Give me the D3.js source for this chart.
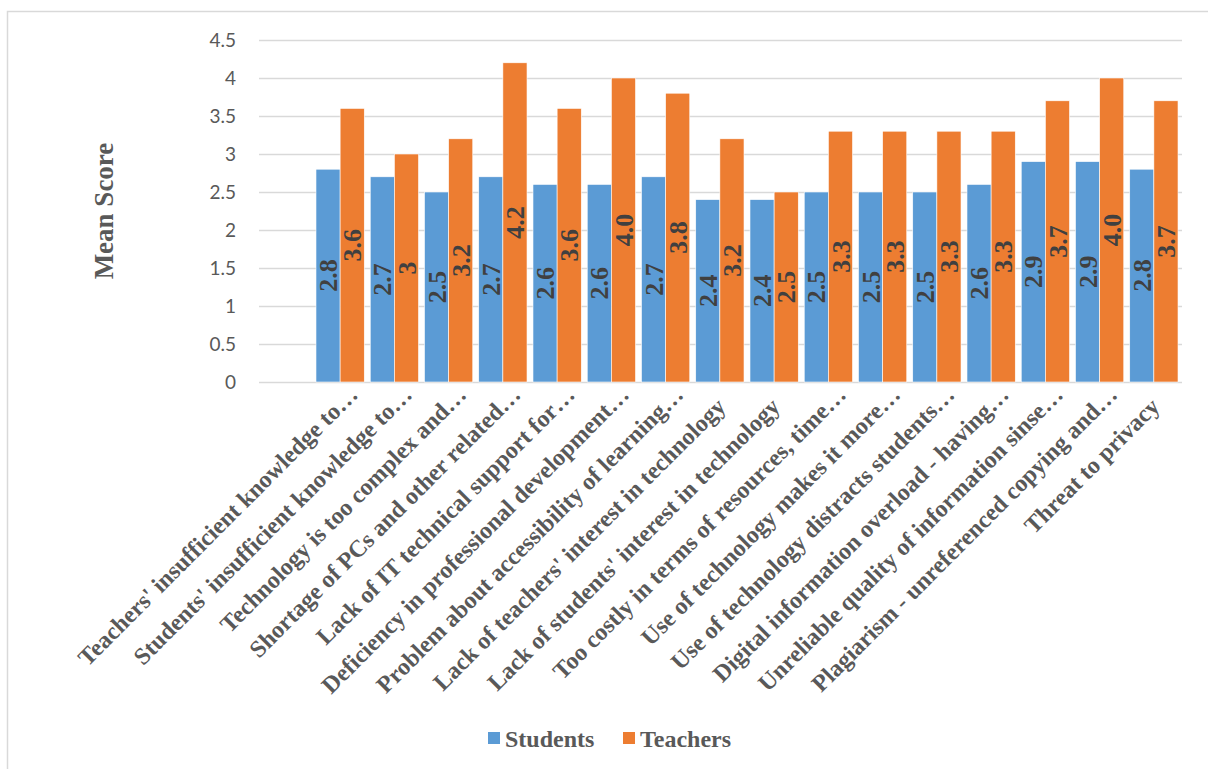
<!DOCTYPE html>
<html>
<head>
<meta charset="utf-8">
<script src="https://cdn.jsdelivr.net/npm/d3@7"></script>
<style>
  html, body { margin: 0; padding: 0; background: #ffffff; }
  svg { display: block; }
</style>
</head>
<body>
<svg id="chart" width="1208" height="769"></svg>
<script>
// Barrier categories (labels as shown on the axis, truncated)
const categories = [
  "Teachers' insufficient knowledge to\u2026",
  "Students' insufficient knowledge to\u2026",
  "Technology is too complex and\u2026",
  "Shortage of PCs and other related\u2026",
  "Lack of IT technical support for\u2026",
  "Deficiency in professional development\u2026",
  "Problem about accessibility of learning\u2026",
  "Lack of teachers' interest in technology",
  "Lack of students' interest in technology",
  "Too costly in terms of resources, time\u2026",
  "Use of technology makes it more\u2026",
  "Use of technology distracts students\u2026",
  "Digital information overload - having\u2026",
  "Unreliable quality of information sinse\u2026",
  "Plagiarism - unreferenced copying and\u2026",
  "Threat to privacy"
];

const seriesNames = ["Students", "Teachers"];
const studentScores = [2.8, 2.7, 2.5, 2.7, 2.6, 2.6, 2.7, 2.4, 2.4, 2.5, 2.5, 2.5, 2.6, 2.9, 2.9, 2.8];
const teacherScores = [3.6, 3.0, 3.2, 4.2, 3.6, 4.0, 3.8, 3.2, 2.5, 3.3, 3.3, 3.3, 3.3, 3.7, 4.0, 3.7];
const studentLabels = ["2.8", "2.7", "2.5", "2.7", "2.6", "2.6", "2.7", "2.4", "2.4", "2.5", "2.5", "2.5", "2.6", "2.9", "2.9", "2.8"];
const teacherLabels = ["3.6", "3", "3.2", "4.2", "3.6", "4.0", "3.8", "3.2", "2.5", "3.3", "3.3", "3.3", "3.3", "3.7", "4.0", "3.7"];
const yTicks = [0, 0.5, 1, 1.5, 2, 2.5, 3, 3.5, 4, 4.5];
const yTickLabels = ["0", "0.5", "1", "1.5", "2", "2.5", "3", "3.5", "4", "4.5"];

const colors = { Students: "#5B9BD5", Teachers: "#ED7D31" };
const textGray = "#595959";
const serif = "'Liberation Serif', 'Times New Roman', serif";
const sans = "Lato, 'Open Sans', sans-serif";

const svg = d3.select("#chart");

// chart frame
svg.append("rect")
  .attr("x", 7.5).attr("y", 11.5)
  .attr("width", 1220).attr("height", 780)
  .attr("fill", "none")
  .attr("stroke", "#D9D9D9")
  .attr("stroke-width", 1.5);

const gridLeft = 259, gridRight = 1182;
const bandLeft = 313, bandRight = 1181;
const y = d3.scaleLinear().domain([0, 4.5]).range([382, 40]);
const x0 = d3.scaleBand().domain(categories).range([bandLeft, bandRight]).paddingInner(0.11).paddingOuter(0.055);
const x1 = d3.scaleBand().domain(seriesNames).range([0, x0.bandwidth()]).padding(0);

// gridlines
svg.append("g")
  .selectAll("line")
  .data(yTicks)
  .join("line")
  .attr("x1", gridLeft).attr("x2", gridRight)
  .attr("y1", d => Math.round(y(d)) + 0.5).attr("y2", d => Math.round(y(d)) + 0.5)
  .attr("stroke", "#D9D9D9").attr("stroke-width", 1.3);

// y axis labels
const yAxis = d3.axisLeft(y).tickValues(yTicks).tickSize(0).tickPadding(0)
  .tickFormat((d, i) => yTickLabels[i]);
const yg = svg.append("g").attr("transform", "translate(236,0)").call(yAxis);
yg.select(".domain").remove();
yg.selectAll("text")
  .attr("font-family", sans).attr("font-size", 19).attr("fill", textGray);

// bars
const rows = categories.map((c, i) => ({
  cat: c,
  vals: [
    { s: "Students", v: studentScores[i], label: studentLabels[i] },
    { s: "Teachers", v: teacherScores[i], label: teacherLabels[i] }
  ]
}));

const groups = svg.append("g").selectAll("g")
  .data(rows).join("g")
  .attr("transform", d => `translate(${x0(d.cat)},0)`);

groups.selectAll("rect")
  .data(d => d.vals).join("rect")
  .attr("x", d => x1(d.s))
  .attr("y", d => y(d.v))
  .attr("width", x1.bandwidth())
  .attr("height", d => y(0) - y(d.v))
  .attr("fill", d => colors[d.s])
  .attr("stroke", "#ffffff").attr("stroke-width", 0.6);

// value labels, rotated, centred in each bar
groups.selectAll("text")
  .data(d => d.vals).join("text")
  .attr("transform", d => `translate(${x1(d.s) + x1.bandwidth() / 2},${(y(d.v) + y(0)) / 2}) rotate(-90)`)
  .attr("text-anchor", "middle")
  .attr("dy", "0.35em")
  .attr("font-family", serif).attr("font-weight", "bold").attr("font-size", 26)
  .attr("fill", "#404040")
  .text(d => d.label);

// category labels, rotated -45; untruncated labels sit a little lower along the slant
svg.append("g").selectAll("text")
  .data(categories).join("text")
  .attr("transform", d => {
    const cx = x0(d) + x0.bandwidth() / 2;
    const shift = d.endsWith("\u2026") ? 0 : 12;
    return `translate(${cx + 19 - shift},${396 + shift}) rotate(-45)`;
  })
  .attr("text-anchor", "end")
  .attr("font-family", serif).attr("font-weight", "bold").attr("font-size", 24)
  .attr("fill", textGray)
  .text(d => d);

// y axis title
svg.append("text")
  .attr("transform", "translate(113,211) rotate(-90)")
  .attr("text-anchor", "middle")
  .attr("font-family", serif).attr("font-weight", "bold").attr("font-size", 27)
  .attr("fill", textGray)
  .text("Mean Score");

// legend
const legendItems = [
  { s: "Students", x: 488 },
  { s: "Teachers", x: 623 }
];
const lg = svg.append("g").selectAll("g").data(legendItems).join("g")
  .attr("transform", d => `translate(${d.x},732)`);
lg.append("rect").attr("width", 12).attr("height", 12).attr("fill", d => colors[d.s]);
lg.append("text")
  .attr("x", 17).attr("y", 14.5)
  .attr("font-family", serif).attr("font-weight", "bold").attr("font-size", 24)
  .attr("fill", textGray)
  .text(d => d.s);
</script>
</body>
</html>
